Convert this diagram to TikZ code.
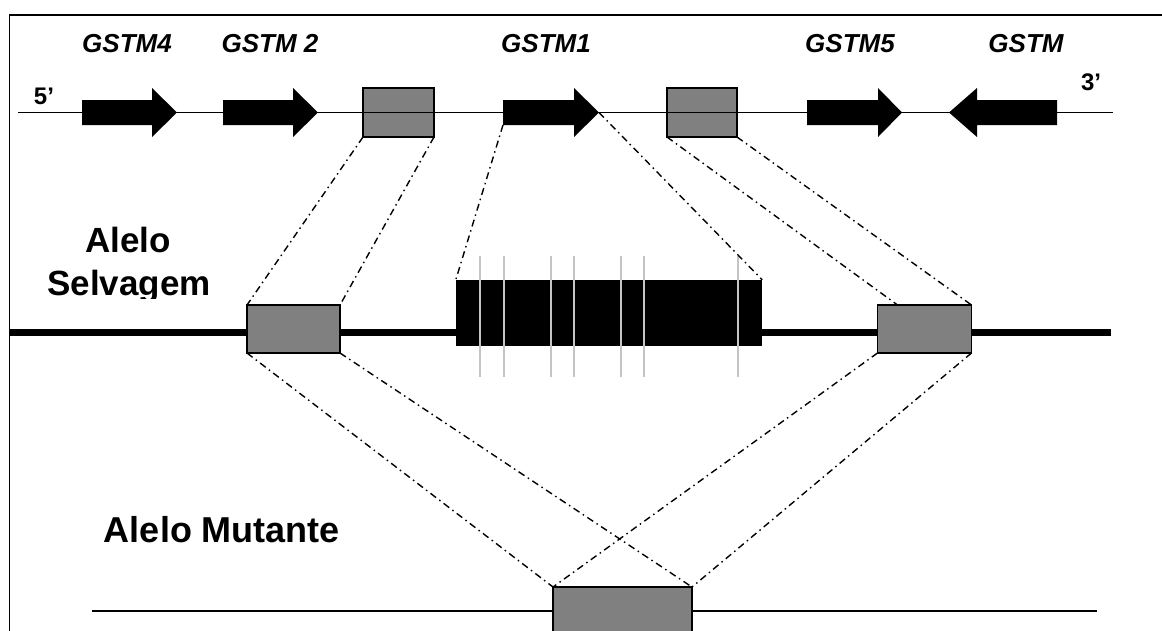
\documentclass[tikz,border=0pt]{standalone}
\usepackage{fontspec}
\setmainfont{Liberation Sans}
\usetikzlibrary{calc}
\definecolor{boxgray}{HTML}{808080}
\definecolor{stripe}{HTML}{C4C4C4}
\tikzset{
  gbox/.style={draw=black,line width=1.8pt,fill=boxgray,inner sep=0pt,outer sep=0pt},
  dd/.style={line width=1.4pt,dash pattern=on 7pt off 4pt on 1.5pt off 4pt},
  genelabel/.style={anchor=base,inner sep=0pt,font=\fontsize{26}{30}\selectfont\bfseries\itshape},
  endlabel/.style={anchor=base,inner sep=0pt,font=\fontsize{24}{28}\selectfont\bfseries},
  biglabel/.style={anchor=base,inner sep=0pt,font=\fontsize{35}{40}\selectfont\bfseries},
  genearrow/.style={fill=black}
}
\begin{document}
\begin{tikzpicture}[x=1pt,y=-1pt]
\useasboundingbox (0,0) rectangle (1162,630);
\clip (0,0) rectangle (1162,630);
% frame
\draw[line width=1.5pt] (9.5,640) -- (9.5,15) -- (1170,15);

% top strand boxes
\node[gbox,minimum width=71pt,minimum height=49pt] (b1) at (398.5,112.5) {};
\node[gbox,minimum width=70pt,minimum height=49pt] (b2) at (702,112.5) {};
% top strand
\draw[line width=1.6pt] (18,112.5) coordinate (s5) -- (1113,112.5) coordinate (s3);
% gene arrows
\fill[genearrow] (82,100) -- (152,100) -- (152,88) -- (177,112.5) -- (152,137) -- (152,125) -- (82,125) -- cycle;
\fill[genearrow] (223,100) -- (293,100) -- (293,88) -- (318,112.5) -- (293,137) -- (293,125) -- (223,125) -- cycle;
\fill[genearrow] (503,100) -- (574,100) -- (574,88) -- (599,112.5) -- (574,137) -- (574,125) -- (503,125) -- cycle;
\fill[genearrow] (807,100) -- (878,100) -- (878,88) -- (902,112.5) -- (878,137) -- (878,125) -- (807,125) -- cycle;
\fill[genearrow] (1057,100) -- (977,100) -- (977,88) -- (949,112.5) -- (977,137) -- (977,125) -- (1057,125) -- cycle;
\coordinate (a3bl) at (503,125);
\coordinate (a3tip) at (599,112.5);

% labels
\node[genelabel] (g4) at (127,52) {GSTM4};
\node[genelabel] (g2) at (270,52) {GSTM 2};
\node[genelabel] (g1) at (546,52) {GSTM1};
\node[genelabel] (g5) at (850,52) {GSTM5};
\node[genelabel] (g0) at (1026,52) {GSTM};
\node[endlabel] (p5) at (44,104) {5’};
\node[endlabel] (p3) at (1091,90) {3’};

% wild type allele
\draw[line width=7pt] (10,332) -- (1111,332);
\node[fill=black,inner sep=0pt,minimum width=306pt,minimum height=66pt] (bk) at (609,313) {};
\foreach \xx in {480,504,551,574,621,644,738}
  \draw[stripe,line width=1.5pt] (\xx,256) -- (\xx,377);
\node[gbox,minimum width=93pt,minimum height=48pt] (bA) at (293.5,329) {};
\node[gbox,minimum width=94pt,minimum height=48pt] (bB) at (924.5,329) {};
\node[biglabel] (al1) at (128,252) {Alelo};
\begin{scope}
\clip (0,200) rectangle (300,298);
\node[biglabel] (al2) at (129,295) {Selvagem};
\end{scope}

% mutant allele
\draw[line width=2pt] (92,611) -- (1097,611);
\node[gbox,minimum width=139pt,minimum height=63pt] (bC) at (622.5,618.5) {};
\node[biglabel,font=\fontsize{36}{40}\selectfont\bfseries] (al3) at (222,542) {Alelo Mutante};

% connectors
\draw[dd] (b1.south west) -- (bA.north west);
\draw[dd] (b1.south east) -- (bA.north east);
\draw[dd] (a3bl) -- (bk.north west);
\draw[dd] (a3tip) -- (bk.north east);
\draw[dd] (b2.south west) -- ($(bB.north west)+(20,0)$);
\draw[dd] (b2.south east) -- (bB.north east);
\draw[dd] (bA.south west) -- (bC.north west);
\draw[dd] (bA.south east) -- (bC.north east);
\draw[dd] (bB.south west) -- (bC.north west);
\draw[dd] (bB.south east) -- (bC.north east);
\end{tikzpicture}
\end{document}
